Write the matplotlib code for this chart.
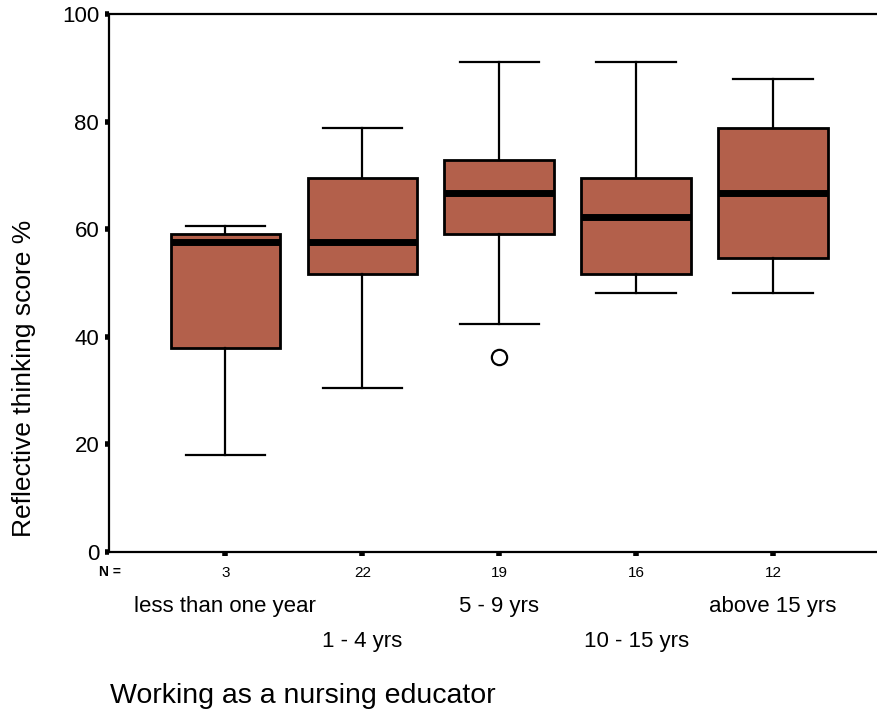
import matplotlib
matplotlib.use("Agg")
import matplotlib.pyplot as plt
import matplotlib.transforms as mtransforms

plt.rcParams["font.family"] = ["Liberation Sans", "DejaVu Sans"]

groups = ["less than one year", "1 - 4 yrs", "5 - 9 yrs", "10 - 15 yrs", "above 15 yrs"]
counts = [3, 22, 19, 16, 12]
whisker_low = [18.0, 30.4, 42.3, 48.2, 48.2]
q1 = [38.0, 51.7, 59.1, 51.6, 54.6]
median = [57.6, 57.7, 66.7, 62.2, 66.7]
q3 = [59.2, 69.5, 72.9, 69.6, 78.9]
whisker_high = [60.6, 78.8, 91.1, 91.1, 87.9]
outliers = [[], [], [36.3], [], []]

box_color = "#B3604B"

stats = []
for i, name in enumerate(groups):
    stats.append({
        "label": name,
        "whislo": whisker_low[i],
        "q1": q1[i],
        "med": median[i],
        "q3": q3[i],
        "whishi": whisker_high[i],
        "fliers": outliers[i],
    })

fig = plt.figure(figsize=(8.78, 7.25), dpi=100)
# axes run past the right edge of the figure, so the right spine is cut off
ax = fig.add_axes([0.1241, 0.2386, 0.889, 0.742])

positions = list(range(1, len(groups) + 1))
ax.bxp(stats, positions=positions, widths=0.8, capwidths=0.58,
       patch_artist=True, showfliers=True,
       boxprops=dict(facecolor=box_color, edgecolor="black", linewidth=2),
       medianprops=dict(color="black", linewidth=5, solid_capstyle="butt"),
       whiskerprops=dict(color="black", linewidth=1.6),
       capprops=dict(color="black", linewidth=1.6),
       flierprops=dict(marker="o", markersize=11, markerfacecolor="white",
                       markeredgecolor="black", markeredgewidth=1.6))

ax.set_xlim(0.15, 5.85)
ax.set_ylim(0, 100)
ax.set_yticks([0, 20, 40, 60, 80, 100])
ax.set_yticklabels(["0", "20", "40", "60", "80", "100"], fontsize=16)
ax.set_xticks(positions)
ax.set_xticklabels([str(n) for n in counts], fontsize=11)
ax.tick_params(axis="both", direction="out", length=3, width=4, color="black")
ax.tick_params(axis="x", pad=7)
ax.tick_params(axis="y", pad=4)

for side in ["left", "bottom", "top", "right"]:
    ax.spines[side].set_linewidth(1.6)

ax.set_ylabel("Reflective thinking score %", fontsize=19)
ax.yaxis.set_label_coords(-0.094, 0.323)

trans = mtransforms.blended_transform_factory(ax.transData, ax.transAxes)
ax.text(0.155, -0.038, "N =", transform=trans, ha="center", va="center",
        fontsize=10, fontweight="bold")
for i, name in enumerate(groups):
    y = -0.102 if i % 2 == 0 else -0.167
    ax.text(positions[i], y, name, transform=trans, ha="center", va="center",
            fontsize=16)

fig.text(0.1253, 0.040, "Working as a nursing educator", fontsize=20.5,
         ha="left", va="center")

fig.savefig("out.png", dpi=100)
